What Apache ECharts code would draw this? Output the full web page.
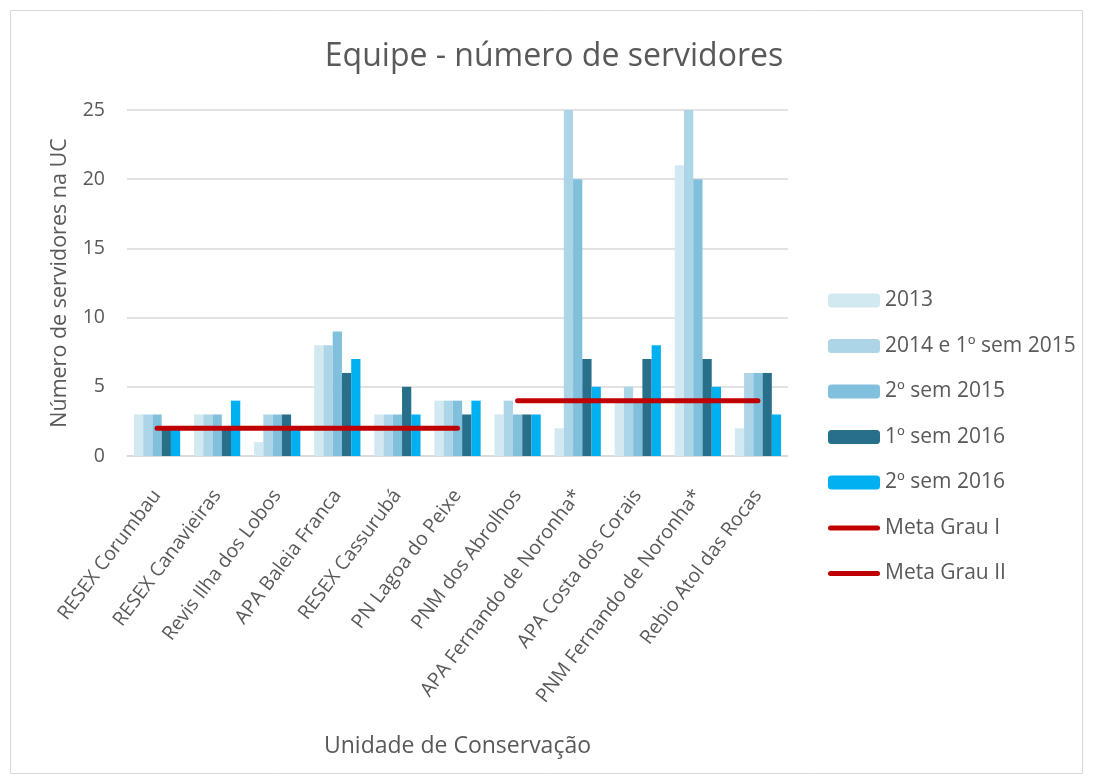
<!DOCTYPE html>
<html>
<head>
<meta charset="utf-8">
<script src="https://cdn.jsdelivr.net/npm/echarts@6/dist/echarts.min.js"></script>
<style>html,body{margin:0;padding:0;background:#fff}#c{width:1093px;height:784px}</style>
</head>
<body>
<div id="c"></div>
<script>
const categories = ["RESEX Corumbau","RESEX Canavieiras","Revis Ilha dos Lobos","APA Baleia Franca","RESEX Cassurubá","PN Lagoa do Peixe","PNM dos Abrolhos","APA Fernando de Noronha*","APA Costa dos Corais","PNM Fernando de Noronha*","Rebio Atol das Rocas"];
const s2013 = [3,3,1,8,3,4,3,2,4,21,2];
const s2014 = [3,3,3,8,3,4,4,25,5,25,6];
const s2sem2015 = [3,3,3,9,3,4,3,20,4,20,6];
const s1sem2016 = [2,2,3,6,5,3,3,7,7,7,6];
const s2sem2016 = [2,4,2,7,3,4,3,5,8,5,3];
const metaGrauI = [2,2,2,2,2,2,null,null,null,null,null];
const metaGrauII = [null,null,null,null,null,null,4,4,4,4,4];
const yTicks = [0,5,10,15,20,25];

const FONT = "Open Sans";
const TXT = "#595959";
const chart = echarts.init(document.getElementById('c'));
const bar = (name, data, color) => ({name, type:'bar', data, barGap:'0%', barCategoryGap:'23%', itemStyle:{color}, emphasis:{disabled:true}});
const line = (name, data) => ({name, type:'line', data, symbol:'none', connectNulls:false, lineStyle:{color:'#C00000', width:5, cap:'round'}, itemStyle:{color:'#C00000'}, emphasis:{disabled:true}});
const lineIcon = 'path://M2.5,0 L49.5,0 A2.5,2.5 0 0 1 49.5,5 L2.5,5 A2.5,2.5 0 0 1 2.5,0 Z';
chart.setOption({
  animation:false,
  textStyle:{fontFamily:FONT},
  title:{text:'Equipe - número de servidores', left:549, top:36, textAlign:'center', textStyle:{fontFamily:FONT, fontSize:32, fontWeight:'normal', color:TXT}},
  grid:{left:127, right:305, top:110, bottom:328},
  legend:{orient:'vertical', left:828, top:290, padding:0, itemWidth:52, itemHeight:14, itemGap:24.5,
    textStyle:{fontFamily:FONT, fontSize:21, color:TXT},
    data:[{name:'2013'},{name:'2014 e 1º sem 2015'},{name:'2º sem 2015'},{name:'1º sem 2016'},{name:'2º sem 2016'},
      {name:'Meta Grau I', icon:lineIcon, itemHeight:5},{name:'Meta Grau II', icon:lineIcon, itemHeight:5}]},
  xAxis:{type:'category', data:categories, axisTick:{show:false},
    axisLine:{lineStyle:{color:'#D9D9D9', width:1.5}},
    axisLabel:{rotate:53, interval:0, fontSize:19.5, color:TXT, fontFamily:FONT, margin:36},
    name:'Unidade de Conservação', nameLocation:'middle', nameGap:279, nameTextStyle:{fontSize:23, color:TXT, fontFamily:FONT}},
  yAxis:{type:'value', min:yTicks[0], max:yTicks[yTicks.length-1], interval:5,
    splitLine:{lineStyle:{color:'#D9D9D9', width:1.5}}, axisLine:{show:false}, axisTick:{show:false},
    axisLabel:{fontSize:19.5, color:TXT, fontFamily:FONT, margin:22},
    name:'Número de servidores na UC', nameLocation:'middle', nameGap:56, nameTextStyle:{fontSize:21.5, color:TXT, fontFamily:FONT}},
  graphic:[{type:'rect', shape:{x:10.5,y:10.5,width:1072,height:763}, style:{fill:'none', stroke:'#D9D9D9', lineWidth:1}, silent:true, z:-1}],
  series:[
    bar('2013', s2013, '#D3E9F2'),
    bar('2014 e 1º sem 2015', s2014, '#ACD5E8'),
    bar('2º sem 2015', s2sem2015, '#81C0DC'),
    bar('1º sem 2016', s1sem2016, '#286F8B'),
    bar('2º sem 2016', s2sem2016, '#00B0F0'),
    line('Meta Grau I', metaGrauI),
    line('Meta Grau II', metaGrauII)
  ]
});
</script>
</body>
</html>
